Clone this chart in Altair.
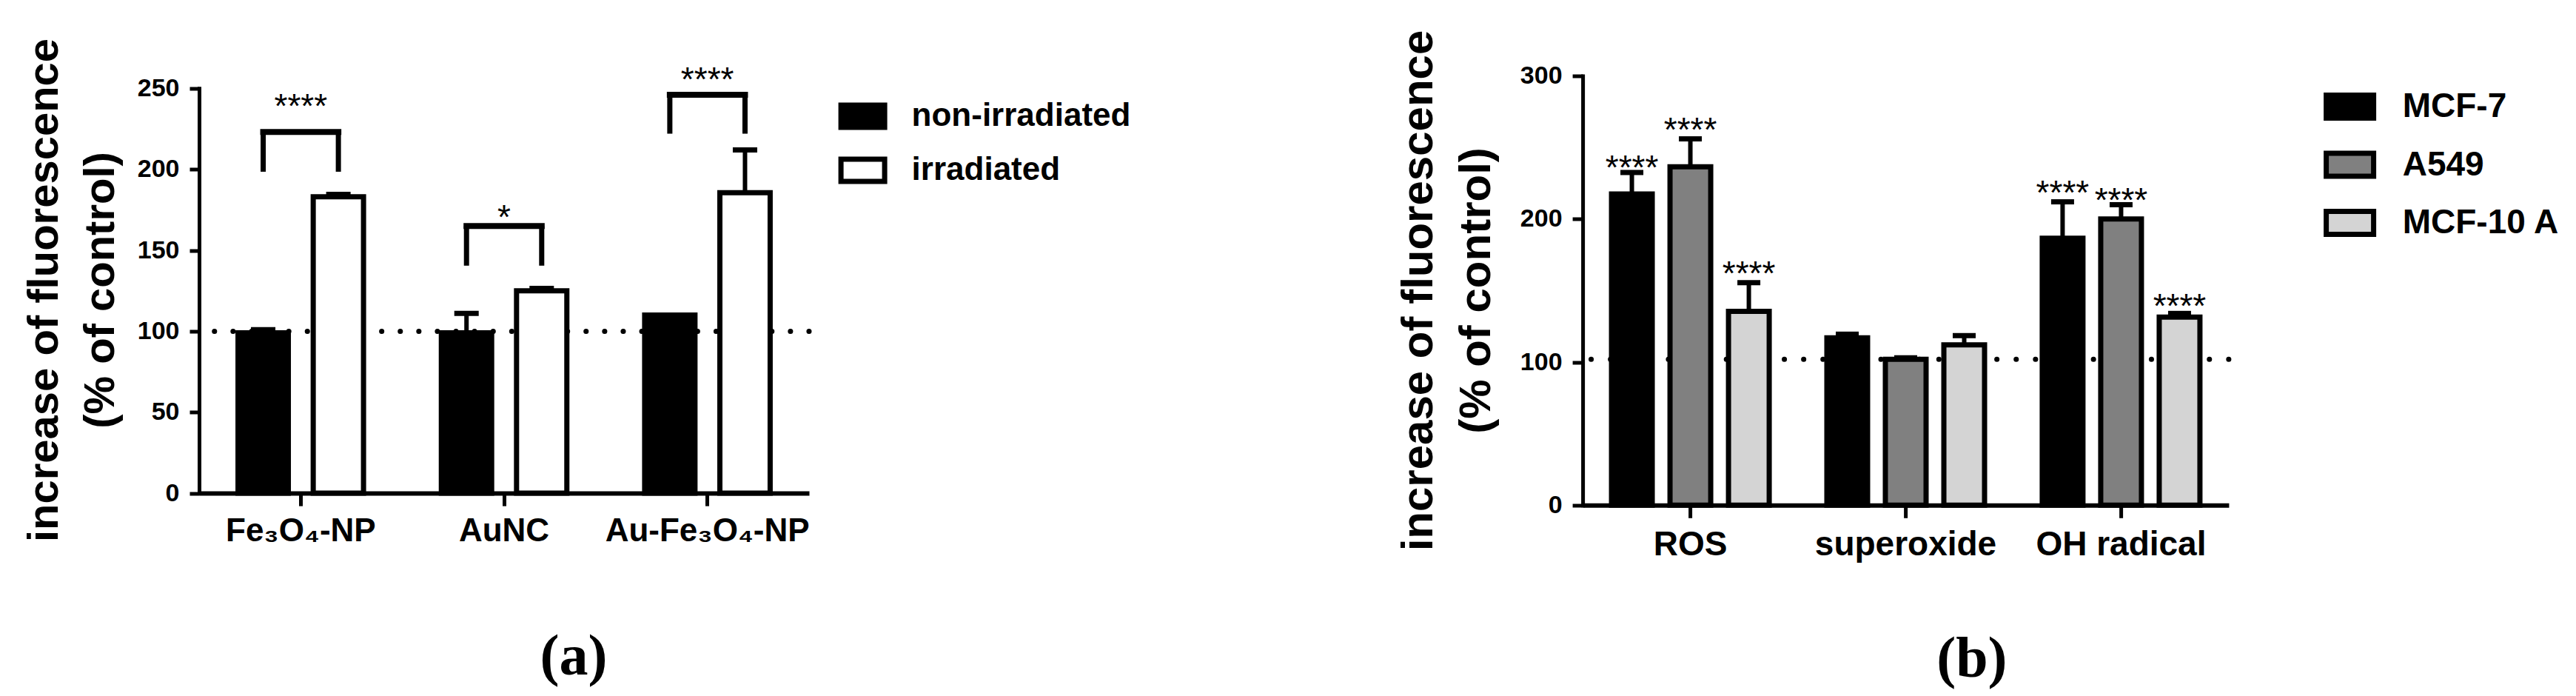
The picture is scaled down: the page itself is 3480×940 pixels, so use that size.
import altair as alt
import pandas as pd

# ---------------- Panel (a) data ----------------
groups_a = ["Fe₃O₄-NP", "AuNC", "Au-Fe₃O₄-NP"]
conditions_a = ["non-irradiated", "irradiated"]
nonirr_mean = [99, 99, 110]
nonirr_sem = [2, 12, 0]
irr_mean = [183, 125, 185.5]
irr_sem = [1.5, 1.5, 26.5]
bracket_top = [223, 165, 246]
bracket_leg = [198.5, 140.5, 222]
sig_a = ["****", "*", "****"]
sig_a_y = [244, 175.5, 260.5]
ref_a = [100]
ticks_a = [0, 50, 100, 150, 200, 250]

# ---------------- Panel (b) data ----------------
groups_b = ["ROS", "superoxide", "OH radical"]
cells_b = ["MCF-7", "A549", "MCF-10 A"]
mcf7_mean = [217.5, 117, 186.5]
mcf7_sem = [15, 2.5, 25.5]
a549_mean = [236.5, 102, 200]
a549_sem = [19.5, 1, 10]
mcf10a_mean = [135.5, 112, 131.5]
mcf10a_sem = [20, 6.5, 2.5]
mcf7_sig_y = [242, None, 224]
a549_sig_y = [268, None, 219]
mcf10a_sig_y = [168, None, 145]
ref_b = [102]
ticks_b = [0, 100, 200, 300]

FONT = "Liberation Sans"
STAR_SIZE = 46
STAR_DY = 27

# ---------------- tables ----------------
rows_a = []
for g, m, s in zip(groups_a, nonirr_mean, nonirr_sem):
    rows_a.append({"group": g, "cond": conditions_a[0], "mean": m, "upper": m + s})
for g, m, s in zip(groups_a, irr_mean, irr_sem):
    rows_a.append({"group": g, "cond": conditions_a[1], "mean": m, "upper": m + s})
df_a = pd.DataFrame(rows_a)

legs_a = []
for g, top, leg in zip(groups_a, bracket_top, bracket_leg):
    for c in conditions_a:
        legs_a.append({"group": g, "cond": c, "top": top, "leg": leg})
df_legs_a = pd.DataFrame(legs_a)
df_brtop_a = pd.DataFrame({"group": groups_a, "top": bracket_top})
df_sig_a = pd.DataFrame({"group": groups_a, "sig": sig_a, "y": sig_a_y})
df_ref_a = pd.DataFrame({"y": ref_a})

rows_b = []
sig_rows_b = []
for cell, means, sems, sigs in zip(cells_b,
                                   [mcf7_mean, a549_mean, mcf10a_mean],
                                   [mcf7_sem, a549_sem, mcf10a_sem],
                                   [mcf7_sig_y, a549_sig_y, mcf10a_sig_y]):
    for g, m, s, sy in zip(groups_b, means, sems, sigs):
        rows_b.append({"grp": g, "cell": cell, "mean": m, "upper": m + s})
        if sy is not None:
            sig_rows_b.append({"grp": g, "cell": cell, "sig": "****", "y": sy})
df_b = pd.DataFrame(rows_b)
df_sig_b = pd.DataFrame(sig_rows_b)
df_ref_b = pd.DataFrame({"y": ref_b})

# ---------------- panel (a) ----------------
H_A = 563.6
W_A = 824
ys_a = alt.Scale(domain=[0, 250], range=[H_A, H_A - 546.8], nice=False, zero=True)
yaxis_a = alt.Axis(
    values=ticks_a, grid=False, title=["increase of fluorescence", "(% of control)"],
    titleFont=FONT, titleFontSize=58, titleFontWeight="bold", titleColor="black",
    titleAngle=-90, titleBaseline="alphabetic", titleAlign="center",
    titleX=-191.6, titleY=289, titleLineHeight=76,
    labelFont=FONT, labelFontSize=34, labelFontWeight="bold", labelColor="black",
    labelPadding=14, tickSize=13, tickWidth=5, tickColor="black",
    domainWidth=5, domainColor="black", domainCap="square",
)
x_scale_a = alt.Scale(domain=groups_a, paddingInner=0, paddingOuter=0)
xaxis_a = alt.Axis(
    title=None, labelAngle=0, labelFont=FONT, labelFontSize=44, labelFontWeight="bold",
    labelColor="black", labelPadding=12, labelLimit=1000, tickSize=17, tickWidth=5,
    tickColor="black", domainWidth=6, domainColor="black", grid=False,
)
X_a = alt.X("group:N", sort=groups_a, scale=x_scale_a, axis=xaxis_a)
XO_a = alt.XOffset("cond:N", sort=conditions_a,
                   scale=alt.Scale(domain=conditions_a, paddingInner=0.331, paddingOuter=0.5175))

ref_line_a = alt.Chart(df_ref_a).mark_rule(
    color="black", strokeWidth=7, strokeCap="round", strokeDash=[0.1, 25]
).encode(y=alt.Y("y:Q", scale=ys_a, axis=yaxis_a))

err_a = alt.Chart(df_a).mark_rule(color="black", strokeWidth=6).encode(
    x=X_a, xOffset=XO_a, y=alt.Y("mean:Q", scale=ys_a, axis=yaxis_a), y2="upper:Q")
cap_a = alt.Chart(df_a).mark_tick(color="black", thickness=7, size=33, opacity=1).encode(
    x=X_a, xOffset=XO_a, y=alt.Y("upper:Q", scale=ys_a, axis=yaxis_a))

bars_a = alt.Chart(df_a).mark_bar(stroke="black", strokeWidth=7, opacity=1).encode(
    x=X_a, xOffset=XO_a,
    y=alt.Y("mean:Q", scale=ys_a, axis=yaxis_a),
    fill=alt.Fill("cond:N", sort=conditions_a,
                  scale=alt.Scale(domain=conditions_a, range=["black", "white"]),
                  legend=alt.Legend(
                      title=None, orient="none", legendX=863.6, legendY=21.6,
                      symbolType="M-1,-0.508L1,-0.508L1,0.508L-1,0.508Z", symbolSize=3481,
                      symbolStrokeColor="black", symbolStrokeWidth=7, symbolOpacity=1,
                      labelFont=FONT, labelFontSize=44, labelFontWeight="bold",
                      labelColor="black", labelOffset=33, rowPadding=11, padding=0,
                      labelLimit=600)),
)

legs_ch_a = alt.Chart(df_legs_a).mark_rule(color="black", strokeWidth=7).encode(
    x=X_a, xOffset=XO_a, y=alt.Y("leg:Q", scale=ys_a, axis=yaxis_a), y2="top:Q")
brtop_ch_a = alt.Chart(df_brtop_a).mark_tick(color="black", thickness=8, size=109.6, opacity=1).encode(
    x=X_a, y=alt.Y("top:Q", scale=ys_a, axis=yaxis_a))
sig_ch_a = alt.Chart(df_sig_a).mark_text(
    font=FONT, fontSize=STAR_SIZE, color="black", baseline="alphabetic", dy=STAR_DY
).encode(x=X_a, y=alt.Y("y:Q", scale=ys_a, axis=yaxis_a), text="sig:N")

chart_a = alt.layer(ref_line_a, err_a, cap_a, bars_a, legs_ch_a, brtop_ch_a, sig_ch_a).properties(
    width=W_A, height=H_A,
    title=alt.TitleParams("(a)", orient="bottom", anchor="middle", frame="group", dx=94,
                          offset=110, font="Liberation Serif", fontSize=78,
                          fontWeight="bold", color="black"),
)

# ---------------- panel (b) ----------------
H_B = 579.8
W_B = 872.8
ys_b = alt.Scale(domain=[0, 300], nice=False, zero=True)
yaxis_b = alt.Axis(
    values=ticks_b, grid=False, title=["increase of fluorescence", "(% of control)"],
    titleFont=FONT, titleFontSize=60, titleFontWeight="bold", titleColor="black",
    titleAngle=-90, titleBaseline="alphabetic", titleAlign="center",
    titleX=-203.8, titleY=289.5, titleLineHeight=78,
    labelFont=FONT, labelFontSize=34, labelFontWeight="bold", labelColor="black",
    labelPadding=14, tickSize=14, tickWidth=5, tickColor="black",
    domainWidth=5, domainColor="black", domainCap="square",
)
x_scale_b = alt.Scale(domain=groups_b, paddingInner=0, paddingOuter=0)
xaxis_b = alt.Axis(
    title=None, labelAngle=0, labelFont=FONT, labelFontSize=46, labelFontWeight="bold",
    labelColor="black", labelPadding=14, labelLimit=1000, tickSize=17, tickWidth=5,
    tickColor="black", domainWidth=6, domainColor="black", grid=False,
)
X_b = alt.X("grp:N", sort=groups_b, scale=x_scale_b, axis=xaxis_b)
XO_b = alt.XOffset("cell:N", sort=cells_b,
                   scale=alt.Scale(domain=cells_b, paddingInner=0.304, paddingOuter=0.493))

ref_line_b = alt.Chart(df_ref_b).mark_rule(
    color="black", strokeWidth=7, strokeCap="round", strokeDash=[0.1, 26]
).encode(y=alt.Y("y:Q", scale=ys_b, axis=yaxis_b))
err_b = alt.Chart(df_b).mark_rule(color="black", strokeWidth=6).encode(
    x=X_b, xOffset=XO_b, y=alt.Y("mean:Q", scale=ys_b, axis=yaxis_b), y2="upper:Q")
cap_b = alt.Chart(df_b).mark_tick(color="black", thickness=7, size=31, opacity=1).encode(
    x=X_b, xOffset=XO_b, y=alt.Y("upper:Q", scale=ys_b, axis=yaxis_b))
bars_b = alt.Chart(df_b).mark_bar(stroke="black", strokeWidth=7, opacity=1).encode(
    x=X_b, xOffset=XO_b,
    y=alt.Y("mean:Q", scale=ys_b, axis=yaxis_b),
    fill=alt.Fill("cell:N", sort=cells_b,
                  scale=alt.Scale(domain=cells_b, range=["black", "#808080", "#d4d4d4"]),
                  legend=alt.Legend(
                      title=None, orient="none", legendX=1001, legendY=6,
                      symbolType="M-1,-0.484L1,-0.484L1,0.484L-1,0.484Z", symbolSize=4096,
                      symbolStrokeColor="black", symbolStrokeWidth=7, symbolOpacity=1,
                      labelFont=FONT, labelFontSize=46, labelFontWeight="bold",
                      labelColor="black", labelOffset=35.6, rowPadding=13.5, padding=0,
                      labelLimit=600)),
)
sig_ch_b = alt.Chart(df_sig_b).mark_text(
    font=FONT, fontSize=STAR_SIZE, color="black", baseline="alphabetic", dy=STAR_DY
).encode(x=X_b, xOffset=XO_b, y=alt.Y("y:Q", scale=ys_b, axis=yaxis_b), text="sig:N")

chart_b = alt.layer(ref_line_b, err_b, cap_b, bars_b, sig_ch_b).properties(
    width=W_B, height=H_B,
    title=alt.TitleParams("(b)", orient="bottom", anchor="middle", frame="group", dx=89.4,
                          offset=94, font="Liberation Serif", fontSize=78,
                          fontWeight="bold", color="black"),
)

chart = alt.hconcat(chart_a, chart_b, spacing=1045.1, bounds="flush").resolve_scale(
    x="independent", y="independent", fill="independent", xOffset="independent"
).resolve_legend(fill="independent").properties(
    padding={"left": 23, "top": 31.5, "right": 5, "bottom": 5}
).configure(font=FONT, background="white").configure_view(strokeWidth=0, stroke="transparent")

chart.save("out.html", embed_options={"renderer": "svg", "actions": False})
